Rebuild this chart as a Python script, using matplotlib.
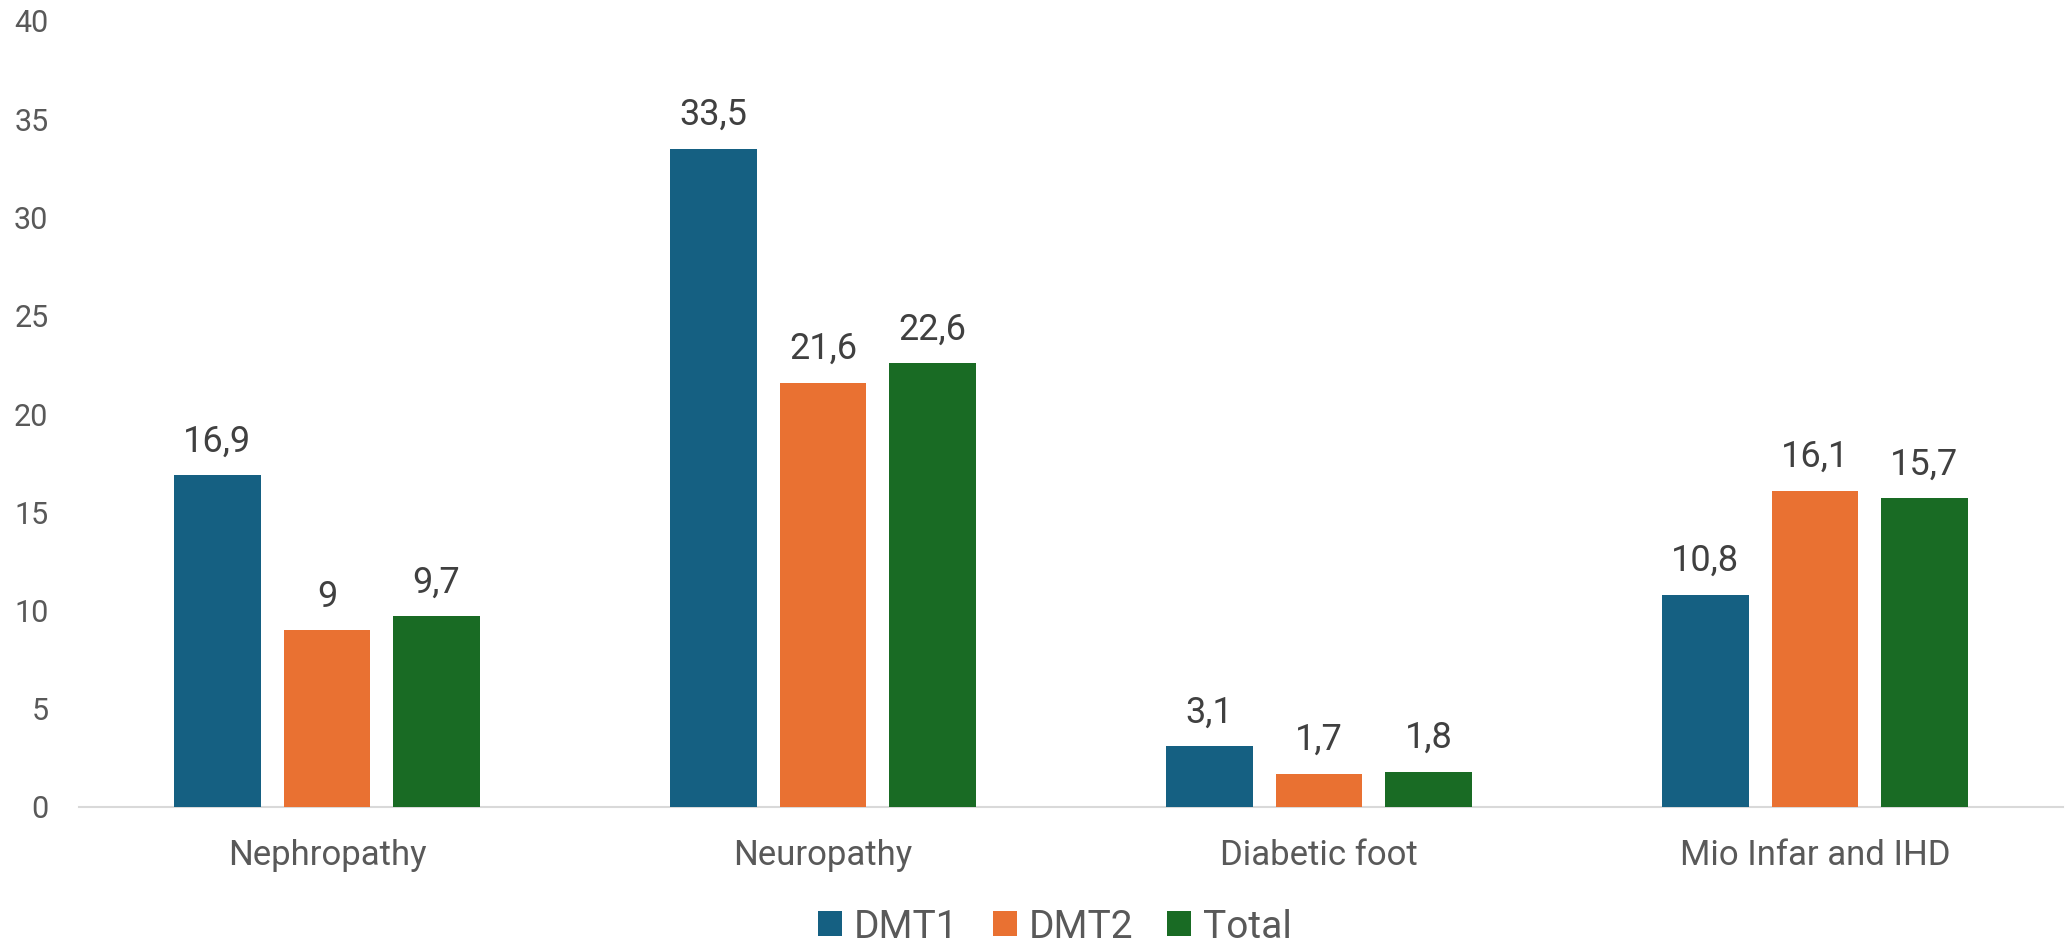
import matplotlib
matplotlib.use("Agg")
import matplotlib.pyplot as plt
import numpy as np

categories = ["Nephropathy", "Neuropathy", "Diabetic foot", "Mio Infar and IHD"]
series_names = ["DMT1", "DMT2", "Total"]
dmt1 = [16.9, 33.5, 3.1, 10.8]
dmt2 = [9, 21.6, 1.7, 16.1]
total = [9.7, 22.6, 1.8, 15.7]
yticks = [0, 5, 10, 15, 20, 25, 30, 35, 40]
colors = ["#156082", "#E97132", "#196B24"]

plt.rcParams['font.family'] = ['Roboto', 'DejaVu Sans']

W, H = 2067, 944
fig = plt.figure(figsize=(W / 100, H / 100), dpi=100)
ax = fig.add_axes([79 / W, (H - 807) / H, (2063 - 79) / W, (807 - 21) / H])

x = np.arange(len(categories))
width = 0.1754
pitch = 0.2208
handles = []
for i, (vals, name, c) in enumerate(zip([dmt1, dmt2, total], series_names, colors)):
    pos = x + (i - 1) * pitch
    b = ax.bar(pos, vals, width=width, color=c, label=name, zorder=3)
    handles.append(b)
    for px, v in zip(pos, vals):
        txt = ("%g" % v).replace(".", ",")
        ax.annotate(txt, (px, v), xytext=(0, 17), textcoords="offset points",
                    ha="center", va="baseline", fontsize=26, color="#404040")

ax.set_xlim(-0.5, len(categories) - 0.5)
ax.set_ylim(0, 40)
ax.set_yticks(yticks)
ax.set_yticklabels([str(t) for t in yticks])
ax.set_xticks(x)
ax.set_xticklabels(categories)
ax.tick_params(axis="y", length=0, pad=22, labelsize=22, labelcolor="#595959")
ax.tick_params(axis="x", length=0, pad=23, labelsize=25, labelcolor="#595959")
for s in ["top", "right", "left"]:
    ax.spines[s].set_visible(False)
ax.spines["bottom"].set_color("#D9D9D9")
ax.spines["bottom"].set_linewidth(1.5)

fig.legend(handles=handles, labels=series_names, loc="center",
           bbox_to_anchor=(1055 / W, (H - 927) / H), ncol=3, frameon=False,
           fontsize=28, labelcolor="#595959", handlelength=0.62, handleheight=0.62,
           handletextpad=0.3, columnspacing=0.88, borderpad=0, borderaxespad=0)

fig.savefig("out.png", dpi=100)
